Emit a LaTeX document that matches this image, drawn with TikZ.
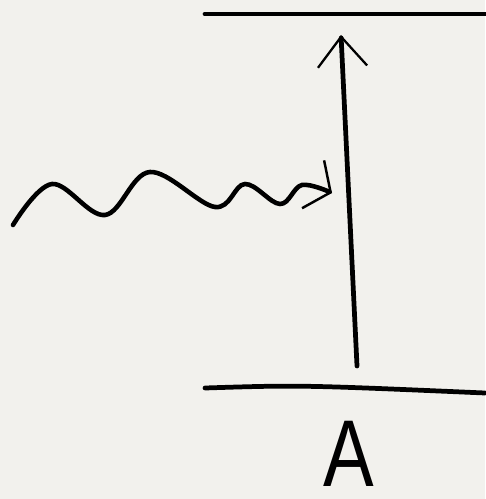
\documentclass[tikz,border=0pt]{standalone}
\usepackage{fontspec}
\setsansfont{Liberation Sans}
\usepackage{xcolor}
\usetikzlibrary{arrows.meta}
\definecolor{paper}{RGB}{242,241,237}

\begin{document}
\begin{tikzpicture}[
  x=0.02cm, y=-0.02cm,
  level/.style={line width=2.7pt, line cap=round},
  transition/.style={line width=2.7pt, line cap=round,
    -{Straight Barb[length=17pt, width=28pt, line width=1.3pt]}},
  photon/.style={line width=2.6pt, line cap=round,
    -{Straight Barb[length=11pt, width=30pt, line width=1.4pt]}},
  state/.style={font=\sffamily\fontsize{54}{54}\selectfont, xscale=0.8, inner sep=0pt}
]

% Paper
\fill[paper] (0,0) rectangle (485,499);
\useasboundingbox (0,0) rectangle (485,499);

% Levels
\coordinate (upL) at (205,14);
\coordinate (upR) at (485,14);
\coordinate (loL) at (205,388);
\coordinate (loR) at (485,393);
\draw[level] (upL) -- (upR);
\draw[level] (loL) .. controls (300,385) .. (loR);

% Excitation
\coordinate (base) at (357,366);
\coordinate (top) at (341,35);
\draw[transition] (base) -- (top);

% Incoming photon
\coordinate (src) at (13,225);
\coordinate (hit) at (332,193);
\draw[photon] plot[smooth, tension=0.6] coordinates {
  (src) (52,184) (105,215) (150,172) (215,207) (245,184) (280,204) (302,185) (hit)};

% State label
\node[state] (A) at (349,454) {A};

\end{tikzpicture}
\end{document}
